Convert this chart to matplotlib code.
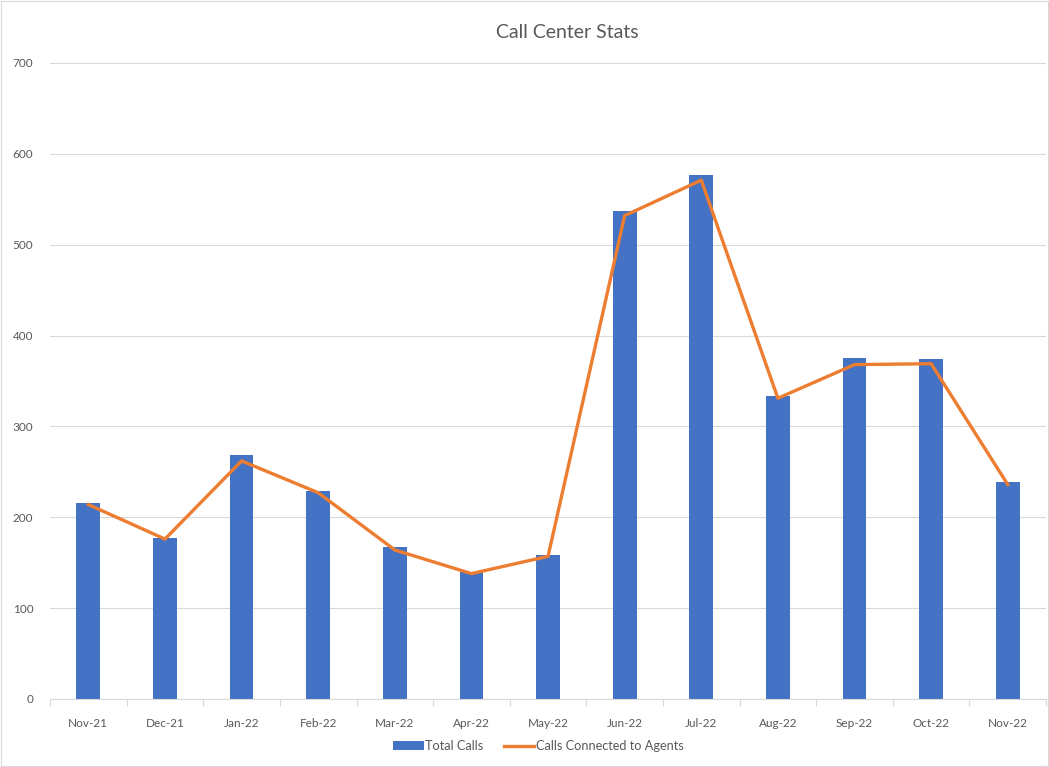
import matplotlib
matplotlib.use("Agg")
import matplotlib.pyplot as plt
import numpy as np
from matplotlib.patches import Patch, Rectangle
from matplotlib.lines import Line2D

# --- data ---
months = ["Nov-21", "Dec-21", "Jan-22", "Feb-22", "Mar-22", "Apr-22", "May-22",
          "Jun-22", "Jul-22", "Aug-22", "Sep-22", "Oct-22", "Nov-22"]
total_calls = [216, 177, 268, 229, 167, 140, 159, 537, 577, 333, 375, 374, 239]
connected_calls = [214, 176, 262, 227, 164, 138, 157, 532, 571, 331, 368, 369, 236]

BAR_COLOR = "#4472C4"
LINE_COLOR = "#ED7D31"
TEXT_COLOR = "#595959"

plt.rcParams['font.family'] = ['Lato', 'DejaVu Sans']

fig = plt.figure(figsize=(10.49, 7.67), dpi=100)
ax = fig.add_axes([0.0477, 0.0887, 0.9495, 0.8292])

x = np.arange(len(months))
ax.bar(x, total_calls, width=0.31, color=BAR_COLOR, zorder=2)
ax.plot(x, connected_calls, color=LINE_COLOR, linewidth=2.4, zorder=3,
        solid_joinstyle='round')

ax.set_xlim(-0.5, len(months) - 0.5)
ax.set_ylim(0, 700)
ax.set_yticks(np.arange(0, 701, 100))
ax.set_xticks(x)
ax.set_xticklabels(months)
ax.set_xticks(np.arange(-0.5, len(months), 1), minor=True)

ax.tick_params(axis='x', which='major', length=0, pad=14, labelsize=8.5, labelcolor=TEXT_COLOR)
ax.tick_params(axis='x', which='minor', length=5, color="#d9d9d9", width=0.8)
ax.tick_params(axis='y', length=0, pad=12, labelsize=8.5, labelcolor=TEXT_COLOR)

ax.grid(True, axis='y', color="#d9d9d9", linewidth=0.8, zorder=0)
ax.set_axisbelow(True)
for side in ['top', 'right', 'left']:
    ax.spines[side].set_visible(False)
ax.spines['bottom'].set_color("#d9d9d9")
ax.spines['bottom'].set_linewidth(0.8)

fig.text(0.541, 0.958, "Call Center Stats", ha='center', va='center',
         fontsize=14, color=TEXT_COLOR)

handles = [Patch(facecolor=BAR_COLOR, edgecolor='none'),
           Line2D([0], [0], color=LINE_COLOR, linewidth=2.4)]
fig.legend(handles, ["Total Calls", "Calls Connected to Agents"],
           loc='center', bbox_to_anchor=(0.513, 0.027), ncol=2, frameon=False,
           fontsize=9.2, labelcolor=TEXT_COLOR, handlelength=2.4,
           handletextpad=0.1, columnspacing=1.6)

# thin frame around the whole chart
fig.patches.append(Rectangle((0.001, 0.001), 0.998, 0.998, transform=fig.transFigure,
                             fill=False, edgecolor="#d9d9d9", linewidth=0.8))

fig.savefig("out.png", dpi=100)
